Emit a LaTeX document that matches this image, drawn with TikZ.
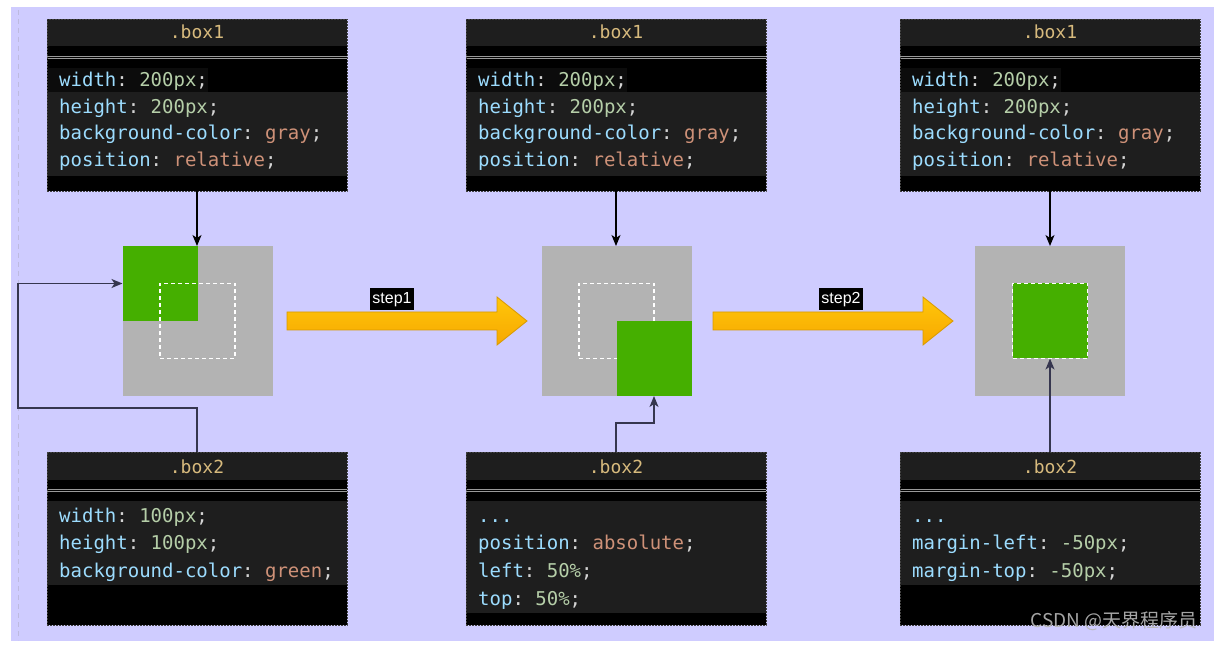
\documentclass[tikz,border=0pt]{standalone}
\usepackage{fontspec}
\setmainfont{Liberation Sans}
\newfontfamily\codefont{DejaVu Sans Mono}
\newfontfamily\cjkfont{Noto Sans CJK SC}
\usetikzlibrary{arrows.meta}
\definecolor{lav}{HTML}{CFCCFF}
\definecolor{hdrbg}{HTML}{1E1E1E}
\definecolor{hlbg}{HTML}{0C0C0C}
\definecolor{hdrtxt}{HTML}{D7BA7D}
\definecolor{propc}{HTML}{9CDCFE}
\definecolor{numc}{HTML}{B5CEA8}
\definecolor{strc}{HTML}{CE9178}
\definecolor{punc}{HTML}{D4D4D4}
\definecolor{graysq}{HTML}{B3B3B3}
\definecolor{greensq}{HTML}{45AF00}
\definecolor{yelA}{HTML}{FFC60A}
\definecolor{yelB}{HTML}{F7A800}
\definecolor{yelD}{HTML}{D99A00}
\definecolor{connB}{HTML}{36364F}
\definecolor{dashl}{HTML}{BDBAE0}
\newcommand\cssP[1]{\textcolor{propc}{#1}}
\newcommand\cssN[1]{\textcolor{numc}{#1}}
\newcommand\cssS[1]{\textcolor{strc}{#1}}
\newcommand\cssU[1]{\textcolor{punc}{#1}}
\tikzset{
  codeline/.style={anchor=base west, inner sep=0pt, font=\codefont\fontsize{19}{19}\selectfont\frenchspacing},
  hdrtext/.style={anchor=base, inner sep=0pt, text=hdrtxt, font=\codefont\fontsize{18}{18}\selectfont},
  frame/.style={draw=black!75, dash pattern=on 2pt off 1pt, line width=0.8pt, inner sep=0pt, outer sep=0pt, anchor=north west},
  dbl/.style={draw=black!40!white, line width=0.9pt},
  bigsq/.style={fill=graysq, minimum size=150pt, inner sep=0pt, outer sep=0pt},
  smallsq/.style={fill=greensq, minimum size=75pt, inner sep=0pt, outer sep=0pt},
  ghost/.style={draw=white, dashed, dash pattern=on 4pt off 3pt, line width=1.2pt, minimum size=75pt, inner sep=0pt, outer sep=0pt},
  conn/.style={draw=black, line width=1.2pt, -{Stealth[length=11pt,width=9pt,inset=3pt]}},
  conntwo/.style={draw=connB, line width=1.3pt, -{Stealth[length=11pt,width=9pt,inset=3pt]}},
  bigarrow/.style={top color=yelA, bottom color=yelB, draw=yelD, line width=0.8pt},
  steplabel/.style={fill=black, text=white, inner xsep=2pt, inner ysep=0pt, minimum height=22pt, font=\fontsize{16}{16}\selectfont}
}
\newcommand\boxone[2]{%
  \begin{scope}[shift={(#2,19)}]
    \fill[hdrbg] (0,0) rectangle (300,27);
    \fill[black] (0,27) rectangle (300,73);
    \fill[hlbg] (1,49) rectangle (161,73);
    \draw[dbl] (0,37) -- (300,37) (0,39.5) -- (300,39.5);
    \fill[hdrbg] (0,73) rectangle (300,157);
    \fill[black] (0,157) rectangle (300,172);
    \node[hdrtext] (#1-h) at (150,20) {.box1};
    \node[codeline] (#1-a) at (12,68) {\cssP{width}\cssU{:} \cssN{200px}\cssU{;}};
    \node[codeline] (#1-b) at (12,94.5) {\cssP{height}\cssU{:} \cssN{200px}\cssU{;}};
    \node[codeline] (#1-c) at (12,121) {\cssP{background-color}\cssU{:} \cssS{gray}\cssU{;}};
    \node[codeline] (#1-d) at (12,148) {\cssP{position}\cssU{:} \cssS{relative}\cssU{;}};
    \node[frame, minimum width=300pt, minimum height=172pt] (#1) at (0,0) {};
  \end{scope}}
\newcommand\boxtwoframe[3]{%
  \begin{scope}[shift={(#2,452)}]
    \fill[hdrbg] (0,0) rectangle (300,28);
    \fill[black] (0,28) rectangle (300,49);
    \draw[dbl] (0,37) -- (300,37) (0,39.5) -- (300,39.5);
    \fill[hdrbg] (0,49) rectangle (300,#3);
    \fill[black] (0,#3) rectangle (300,173);
    \node[hdrtext] (#1-h) at (150,21) {.box2};
    \node[frame, minimum width=300pt, minimum height=173pt] (#1) at (0,0) {};
  \end{scope}}
\begin{document}
\begin{tikzpicture}[x=1pt,y=-1pt]
\useasboundingbox (0,0) rectangle (1224,652);
\fill[white] (0,0) rectangle (1224,652);
\fill[lav] (11,7) rectangle (1214,641);
\draw[dashl, line width=1pt, dash pattern=on 5pt off 4pt] (18,10) -- (18,640);

% top boxes
\boxone{bA}{47}
\boxone{bB}{466}
\boxone{bC}{900}

% bottom boxes
\boxtwoframe{cA}{47}{133}
\begin{scope}[shift={(47,452)}]
  \node[codeline] (cA-a) at (12,70) {\cssP{width}\cssU{:} \cssN{100px}\cssU{;}};
  \node[codeline] (cA-b) at (12,97) {\cssP{height}\cssU{:} \cssN{100px}\cssU{;}};
  \node[codeline] (cA-c) at (12,125) {\cssP{background-color}\cssU{:} \cssS{green}\cssU{;}};
\end{scope}
\boxtwoframe{cB}{466}{161}
\begin{scope}[shift={(466,452)}]
  \node[codeline] (cB-a) at (12,70) {\cssP{...}};
  \node[codeline] (cB-b) at (12,97) {\cssP{position}\cssU{:} \cssS{absolute}\cssU{;}};
  \node[codeline] (cB-c) at (12,125) {\cssP{left}\cssU{:} \cssN{50\%}\cssU{;}};
  \node[codeline] (cB-d) at (12,153) {\cssP{top}\cssU{:} \cssN{50\%}\cssU{;}};
\end{scope}
\boxtwoframe{cC}{900}{133}
\begin{scope}[shift={(900,452)}]
  \node[codeline] (cC-a) at (12,70) {\cssP{...}};
  \node[codeline] (cC-b) at (12,97) {\cssP{margin-left}\cssU{:} \cssN{-50px}\cssU{;}};
  \node[codeline] (cC-c) at (12,125) {\cssP{margin-top}\cssU{:} \cssN{-50px}\cssU{;}};
\end{scope}

% squares
\node[bigsq] (gA) at (197.5,321) {};
\node[smallsq] (sA) at (160,283.5) {};
\node[ghost] (dA) at (197.5,321) {};
\node[bigsq] (gB) at (616.5,321) {};
\node[ghost] (dB) at (616.5,321) {};
\node[smallsq] (sB) at (654,358.5) {};
\node[bigsq] (gC) at (1050,321) {};
\node[smallsq, draw=white, dashed, dash pattern=on 4pt off 3pt, line width=1.2pt] (sC) at (1050,321) {};

% connectors from .box1
\draw[conn] (bA.south) -- (bA.south |- gA.north);
\draw[conn] (bB.south) -- (bB.south |- gB.north);
\draw[conn] (bC.south) -- (bC.south |- gC.north);

% connectors from .box2
\coordinate (lpA) at (18,408);
\draw[conntwo] (cA.north) |- (lpA) |- (sA.west);
\coordinate (lpB) at (654,423);
\draw[conntwo] (cB.north) |- (lpB) -- (sB.south);
\draw[conntwo] (cC.north) -- (sC.south);

% big yellow arrows
\path[bigarrow] (287,312) -- (497,312) -- (497,297) -- (527,321) -- (497,345) -- (497,330) -- (287,330) -- cycle;
\path[bigarrow] (713,312) -- (923,312) -- (923,297) -- (953,321) -- (923,345) -- (923,330) -- (713,330) -- cycle;
\node[steplabel] (st1) at (392,299.5) {step1};
\node[steplabel] (st2) at (841,299.5) {step2};

% watermark
\node[anchor=east, inner sep=0pt, text=white!72!black, text opacity=0.9, font=\cjkfont\fontsize{19}{19}\selectfont] (wm) at (1198,621) {CSDN @天界程序员};
\end{tikzpicture}
\end{document}
